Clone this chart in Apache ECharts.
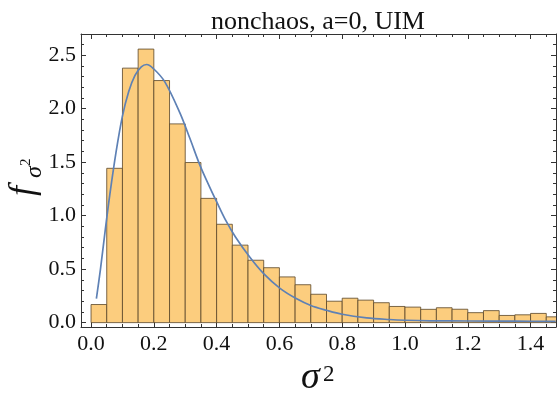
<!DOCTYPE html>
<html><head><meta charset="utf-8">
<script src="https://cdn.jsdelivr.net/npm/echarts@6/dist/echarts.min.js"></script>
<style>html,body{margin:0;padding:0;background:#fff}#c{width:559px;height:396px}</style>
</head><body><div id="c"></div>
<script>
// ---- data ----
const binStarts = [0.00,0.05,0.10,0.15,0.20,0.25,0.30,0.35,0.40,0.45,0.50,0.55,0.60,0.65,0.70,0.75,0.80,0.85,0.90,0.95,1.00,1.05,1.10,1.15,1.20,1.25,1.30,1.35,1.40,1.45];
const binWidth = 0.05;
const binHeights = [0.169,1.442,2.378,2.556,2.262,1.857,1.496,1.161,0.919,0.724,0.583,0.513,0.427,0.354,0.265,0.200,0.228,0.210,0.186,0.151,0.145,0.124,0.139,0.125,0.093,0.112,0.067,0.073,0.086,0.054];
const curveX = [0.017,0.030,0.045,0.060,0.080,0.100,0.120,0.140,0.160,0.177,0.200,0.235,0.283,0.315,0.347,0.379,0.400,0.430,0.460,0.506,0.549,0.602,0.655,0.700,0.750,0.800,0.878,0.950,1.000,1.080,1.200,1.350,1.480];
const curveY = [0.225,0.500,0.860,1.200,1.600,1.930,2.160,2.310,2.390,2.412,2.370,2.250,1.960,1.720,1.470,1.260,1.130,0.950,0.800,0.610,0.460,0.320,0.222,0.160,0.115,0.078,0.045,0.029,0.022,0.017,0.015,0.013,0.012];
const xTickLabels = [0.0,0.2,0.4,0.6,0.8,1.0,1.2,1.4];
const yTickLabels = [0.0,0.5,1.0,1.5,2.0,2.5];
const titleText = 'nonchaos, a=0, UIM';

const X_MIN = -0.032, X_MAX = 1.481, Y_MIN = -0.041, Y_MAX = 2.697;
const xMinor = []; for (let i = 0; i <= 30; i++) { const v = +(i*0.05).toFixed(2); if (i % 4 !== 0) xMinor.push(v); }
const yMinor = []; for (let i = 0; i <= 26; i++) { const v = +(i*0.1).toFixed(1); if (i % 5 !== 0) yMinor.push(v); }

const SERIF = "'Liberation Serif','DejaVu Serif',serif";
const AX = '#333';
const hist = binStarts.map((s, i) => [s, +(s + binWidth).toFixed(2), binHeights[i]]);
const curve = curveX.map((x, i) => [x, curveY[i]]);

function xAx(pos, vals, len, line, labels) {
  return {
    type: 'value', min: X_MIN, max: X_MAX, position: pos, gridIndex: 0,
    axisLine: { show: line, onZero: false, lineStyle: { color: AX, width: 1 } },
    axisTick: { show: true, inside: true, length: len, customValues: vals, lineStyle: { color: AX, width: 1 } },
    axisLabel: { show: labels, customValues: vals, formatter: v => (+v).toFixed(1), fontFamily: SERIF, fontSize: 22, color: '#111', margin: 6 },
    splitLine: { show: false }
  };
}
function yAx(pos, vals, len, line, labels) {
  return {
    type: 'value', min: Y_MIN, max: Y_MAX, position: pos, gridIndex: 0,
    axisLine: { show: line, onZero: false, lineStyle: { color: AX, width: 1 } },
    axisTick: { show: true, inside: true, length: len, customValues: vals, lineStyle: { color: AX, width: 1 } },
    axisLabel: { show: labels, customValues: vals, formatter: v => (+v).toFixed(1), fontFamily: SERIF, fontSize: 22, color: '#111', margin: 5 },
    splitLine: { show: false }
  };
}

const chart = echarts.init(document.getElementById('c'), null, { renderer: 'canvas' });
chart.setOption({
  animation: false,
  backgroundColor: '#fff',
  grid: { left: 81, top: 34, width: 475, height: 293, containLabel: false },
  xAxis: [
    xAx('bottom', xTickLabels, 5, true, true),
    xAx('bottom', xMinor, 3, false, false),
    xAx('top', xTickLabels, 5, true, false),
    xAx('top', xMinor, 3, false, false)
  ],
  yAxis: [
    yAx('left', yTickLabels, 5, true, true),
    yAx('left', yMinor, 3, false, false),
    yAx('right', yTickLabels, 5, true, false),
    yAx('right', yMinor, 3, false, false)
  ],
  series: [
    {
      type: 'custom', xAxisIndex: 0, yAxisIndex: 0, clip: true,
      data: hist,
      renderItem: function (params, api) {
        const a = api.coord([api.value(0), api.value(2)]);
        const b = api.coord([api.value(1), 0]);
        return {
          type: 'rect',
          shape: { x: a[0], y: a[1], width: b[0] - a[0], height: b[1] - a[1] },
          style: { fill: '#FCCD7E', stroke: 'rgba(90,70,40,0.8)', lineWidth: 1 }
        };
      }
    },
    {
      type: 'line', xAxisIndex: 0, yAxisIndex: 0, data: curve, smooth: 0.35,
      showSymbol: false, symbol: 'none', clip: true,
      lineStyle: { color: '#5E81B5', width: 1.7 }
    }
  ],
  graphic: [
    { type: 'text', x: 318, y: 35, style: { text: titleText, font: '26px ' + SERIF, fill: '#111', textAlign: 'center', textVerticalAlign: 'bottom' } },
    { type: 'group', x: 324, y: 397, children: [
      { type: 'text', x: -23, y: 0, style: { text: 'σ', font: 'italic 38px ' + SERIF, fill: '#111', textAlign: 'left', textVerticalAlign: 'bottom' } },
      { type: 'text', x: -1, y: -11, style: { text: '2', font: '23px ' + SERIF, fill: '#111', textAlign: 'left', textVerticalAlign: 'bottom' } }
    ]},
    { type: 'group', x: 42, y: 178, rotation: Math.PI / 2, children: [
      { type: 'text', x: -18, y: 0, style: { text: 'f', font: 'italic 36px ' + SERIF, fill: '#111', textAlign: 'left', textVerticalAlign: 'bottom' } },
      { type: 'text', x: 0, y: 5, style: { text: 'σ', font: 'italic 24px ' + SERIF, fill: '#111', textAlign: 'left', textVerticalAlign: 'bottom' } },
      { type: 'text', x: 12, y: -8, style: { text: '2', font: '15px ' + SERIF, fill: '#111', textAlign: 'left', textVerticalAlign: 'bottom' } }
    ]}
  ]
});
</script>
</body></html>
